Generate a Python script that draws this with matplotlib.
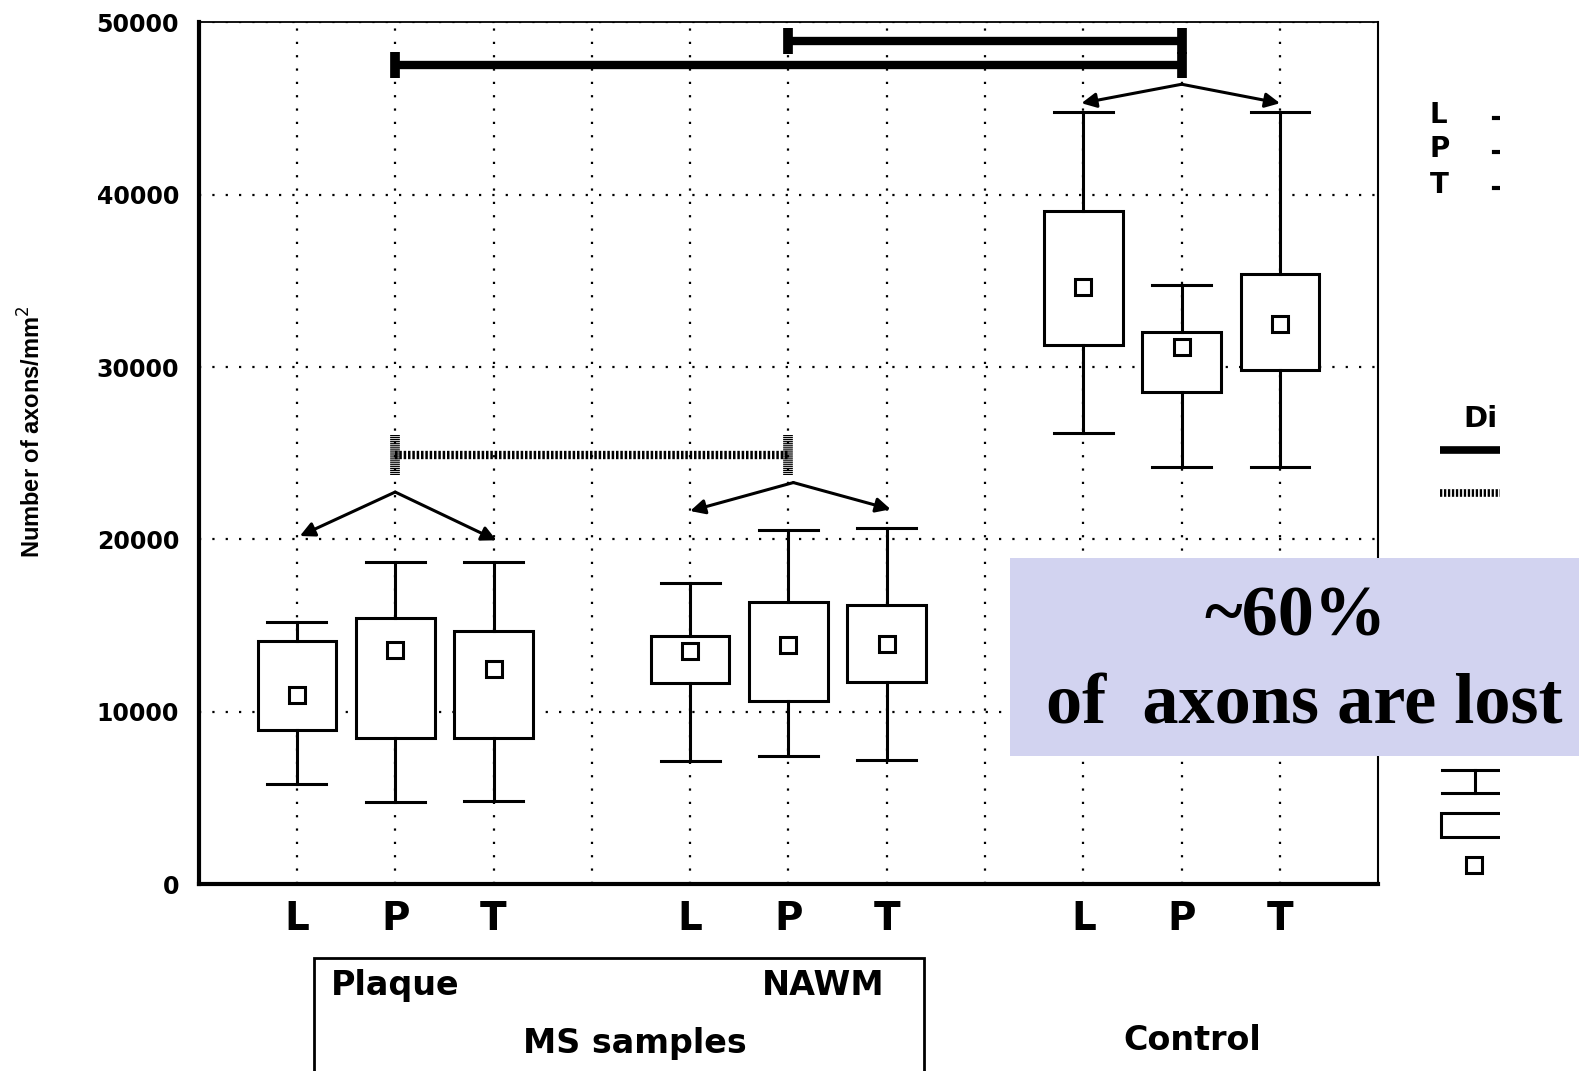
#!/usr/bin/env python3
"""Axon density box plot (MS plaque / NAWM vs control), redrawn from a scanned figure."""

import matplotlib

matplotlib.use("Agg")
import matplotlib.pyplot as plt
from matplotlib.patches import Rectangle

# ---- data ----
positions = [1, 2, 3, 5, 6, 7, 9, 10, 11]
tick_labels = ["L", "P", "T", "L", "P", "T", "L", "P", "T"]
whisker_low = [5800, 4800, 4850, 7150, 7450, 7200, 26200, 24200, 24200]
box_low = [8950, 8500, 8500, 11700, 10650, 11750, 31300, 28550, 29800]
means = [11000, 13600, 12500, 13550, 13900, 13950, 34650, 31150, 32500]
box_high = [14100, 15450, 14700, 14400, 16350, 16200, 39050, 32050, 35400]
whisker_high = [15200, 18700, 18700, 17450, 20550, 20650, 44800, 34750, 44800]

# significance bars: (from, to, level)
solid_bars = [(2, 10, 47500), (6, 10, 48900)]
hatched_bars = [(2, 6, 24900)]
# arrow fans: (apex x, apex y, [(target x, target y), ...])
fans = [
    (2, 22750, [(1.03, 20200), (3.03, 19950)]),
    (6.05, 23300, [(5.0, 21650), (7.04, 21750)]),
    (10, 46400, [(8.98, 45300), (11.0, 45300)]),
]

fig = plt.figure(figsize=(15.81, 10.71), dpi=100)
ax = fig.add_axes([0.1256, 0.1743, 0.7462, 0.805])

stats = [
    dict(whislo=wl, q1=q1, med=m, mean=m, q3=q3, whishi=wh, fliers=[])
    for wl, q1, m, q3, wh in zip(whisker_low, box_low, means, box_high, whisker_high)
]
ax.bxp(
    stats,
    positions=positions,
    widths=0.8,
    capwidths=0.6,
    showmeans=True,
    patch_artist=True,
    boxprops=dict(facecolor="white", edgecolor="black", linewidth=2.2),
    whiskerprops=dict(color="black", linewidth=2.2),
    capprops=dict(color="black", linewidth=2.2),
    medianprops=dict(linewidth=0),
    meanprops=dict(marker="s", markerfacecolor="white", markeredgecolor="black",
                   markersize=12, markeredgewidth=2.2),
)

# grid columns at every slot, labels only where there is a box
slots = list(range(1, 12))
slot_labels = dict(zip(positions, tick_labels))
ax.set_xlim(0, 12)
ax.set_ylim(0, 50000)
ax.set_yticks([0, 10000, 20000, 30000, 40000, 50000])
ax.set_xticks(slots)
ax.set_xticklabels([slot_labels.get(s, "") for s in slots], fontsize=28, fontweight="bold")
ax.tick_params(axis="x", length=0, pad=11)
ax.tick_params(axis="y", length=0, pad=14)
for lbl in ax.get_yticklabels():
    lbl.set_fontsize(17)
    lbl.set_fontweight("bold")

dots = (0, (1, 5))
ax.grid(color="black", linestyle=dots, linewidth=1.6)
ax.set_axisbelow(True)

ax.spines["left"].set_linewidth(3)
ax.spines["bottom"].set_linewidth(3)
ax.spines["top"].set_linewidth(1.3)
ax.spines["right"].set_linewidth(1.5)

# significance bars
for x0, x1, y in solid_bars:
    ax.plot([x0, x1], [y, y], color="black", lw=6, solid_capstyle="butt", zorder=4)
    for xe in (x0, x1):
        ax.plot([xe, xe], [y - 750, y + 750], color="black", lw=7,
                solid_capstyle="butt", zorder=4)
for x0, x1, y in hatched_bars:
    ax.plot([x0, x1], [y, y], color="black", lw=6, linestyle=(0, (0.3, 0.22)),
            dash_capstyle="butt", zorder=4)
    for xe in (x0, x1):
        ax.plot([xe, xe], [y - 1150, y + 1150], color="black", lw=7,
                linestyle=(0, (0.12, 0.08)), zorder=4)

for ax0, ay0, targets in fans:
    for tx, ty in targets:
        ax.annotate("", xy=(tx, ty), xytext=(ax0, ay0),
                    arrowprops=dict(arrowstyle="-|>", color="black", lw=2.2,
                                    mutation_scale=22, shrinkA=0, shrinkB=0),
                    zorder=5)

# y label
fig.text(0.0204, 0.597, "Number of axons/mm$^2$", rotation=90, ha="center", va="center",
         fontsize=17, fontweight="bold",
         family=["Liberation Sans Narrow", "Liberation Sans"])

# group box under the axis
fig.patches.append(Rectangle((0.1984, -0.02), 0.3858, 0.1256, transform=fig.transFigure,
                             fill=False, edgecolor="black", linewidth=2))
group_font = dict(fontsize=24, fontweight="bold")
fig.text(0.2092, 0.0794, "Plaque", ha="left", va="center", **group_font)
fig.text(0.5593, 0.0794, "NAWM", ha="right", va="center", **group_font)
fig.text(0.4018, 0.0256, "MS samples", ha="center", va="center", **group_font)
fig.text(0.7538, 0.0284, "Control", ha="center", va="center", **group_font)

# cut-off legend at the right edge (pixel coordinates of the figure)
leg = fig.add_axes([1400 / 1581, 0, 100 / 1581, 1])
leg.set_xlim(1400, 1500)
leg.set_ylim(1071, 0)
leg.axis("off")
for letter, yy in zip(["L", "P", "T"], [115, 149, 185]):
    leg.text(1430, yy, letter, ha="left", va="center", fontsize=20, fontweight="bold")
    leg.plot([1494, 1510], [yy + 3, yy + 3], color="black", lw=3)
leg.text(1463, 419, "Di", ha="left", va="center", fontsize=21, fontweight="bold")
leg.plot([1440, 1510], [450, 450], color="black", lw=5.5, solid_capstyle="butt")
leg.plot([1440, 1510], [493, 493], color="black", lw=5.5, linestyle=(0, (0.3, 0.22)))
leg.plot([1442, 1510], [770, 770], color="black", lw=2.2)
leg.plot([1442, 1510], [793, 793], color="black", lw=2.2)
leg.plot([1475, 1475], [770, 793], color="black", lw=2.2)
leg.add_patch(Rectangle((1441, 813), 80, 24, fill=False, edgecolor="black", lw=2.2))
leg.plot([1474], [865], marker="s", markersize=11, markerfacecolor="white",
         markeredgecolor="black", markeredgewidth=2.2)

# lavender call-out
fig.patches.append(Rectangle((0.639, 0.2939), 0.3597, 0.1854, transform=fig.transFigure,
                             facecolor="#d2d3f0", edgecolor="none", zorder=10))
callout_font = dict(fontsize=52, fontweight="bold", family="Liberation Serif", zorder=11)
fig.text(0.8196, 0.4230, "~60%", ha="center", va="center", **callout_font)
fig.text(0.8249, 0.3410, "of  axons are lost", ha="center", va="center", **callout_font)

fig.savefig("out.png", dpi=100)
